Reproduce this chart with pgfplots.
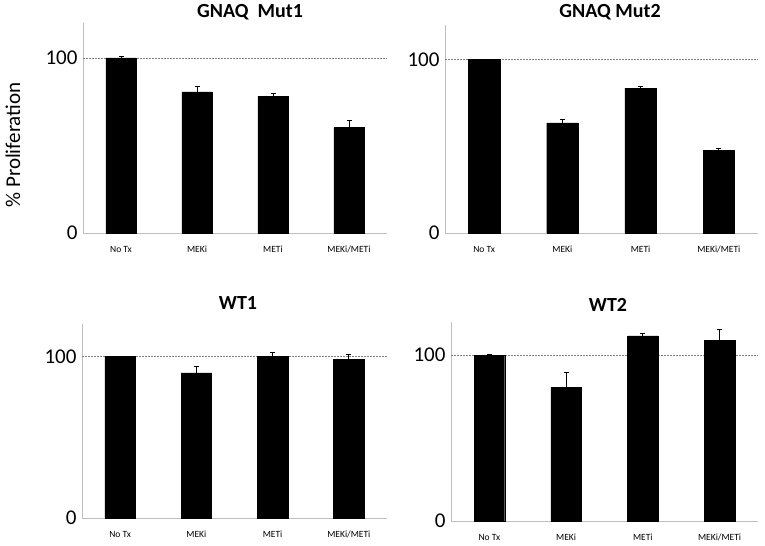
\documentclass[border=0pt]{standalone}
\usepackage{fontspec}
\setmainfont{Carlito}
\usepackage{pgfplots}
\pgfplotsset{compat=1.18}
\pgfplotsset{
  panel/.style={
    scale only axis,
    xmin=-0.5, xmax=3.5, ymin=0, ymax=120,
    axis x line=bottom, axis y line=left,
    axis line style={-, draw=black!25, line width=0.9pt},
    xtick={0,1,2,3},
    xticklabels={No Tx, MEKi, METi, MEKi/METi},
    ytick={0,100},
    major tick length=0pt,
    xticklabel style={font=\fontsize{9.5}{10}\selectfont, yshift=-9pt, text height=7pt, text depth=2pt},
    yticklabel style={font=\fontsize{21}{24}\selectfont, xshift=-2pt},
    /pgf/number format/assume math mode=true,
    ybar, bar width=0.4,
    clip=false,
  },
  bars/.style={
    fill=black, draw=black,
    error bars/.cd, y dir=plus, y explicit,
    error bar style={black, line width=0.9pt},
    error mark options={rotate=90, black, mark size=2.5pt, line width=0.9pt},
  },
  refline/.style={sharp plot, gray, dashed, line width=0.5pt, dash pattern=on 2pt off 1pt, forget plot},
}
\begin{document}
\begin{tikzpicture}
\path (0pt,0pt) rectangle (765pt,545pt);
% Panel 1
\begin{axis}[panel, at={(83pt,312pt)}, anchor=south west, width=304pt, height=210pt]
\addplot[refline] coordinates {(-0.5,100) (3.5,100)};
\addplot[bars] coordinates {(0,100) +- (0,0.6) (1,80.6) +- (0,3.0) (2,77.9) +- (0,1.9) (3,60.4) +- (0,3.8)};
\end{axis}
% Panel 2
\begin{axis}[panel, at={(445pt,312pt)}, anchor=south west, width=313pt, height=208pt]
\addplot[refline] coordinates {(-0.5,100) (3.5,100)};
\addplot[bars] coordinates {(0,100) +- (0,0.3) (1,63.5) +- (0,2.2) (2,83.6) +- (0,0.9) (3,47.7) +- (0,1.2)};
\end{axis}
% Panel 3
\begin{axis}[panel, at={(82pt,27pt)}, anchor=south west, width=305pt, height=194pt]
\addplot[refline] coordinates {(-0.5,100) (3.5,100)};
\addplot[bars] coordinates {(0,100) +- (0,0.2) (1,89.7) +- (0,4.2) (2,100) +- (0,2.5) (3,98.0) +- (0,3.1)};
\end{axis}
% Panel 4
\begin{axis}[panel, at={(451pt,24pt)}, anchor=south west, width=307pt, height=199pt]
\addplot[refline] coordinates {(-0.5,100) (3.5,100)};
\addplot[bars] coordinates {(0,100) +- (0,0.5) (1,80.6) +- (0,9.1) (2,111.7) +- (0,1.4) (3,109.1) +- (0,6.5)};
\end{axis}
\node[font=\fontsize{20}{24}\selectfont\bfseries] at (250pt,533pt) {GNAQ\ \ Mut1};
\node[font=\fontsize{20}{24}\selectfont\bfseries] at (610pt,533pt) {GNAQ Mut2};
\node[font=\fontsize{20}{24}\selectfont\bfseries] at (238pt,242pt) {WT1};
\node[font=\fontsize{20}{24}\selectfont\bfseries] at (608pt,240pt) {WT2};
\node[font=\fontsize{21}{24}\selectfont, rotate=90] at (13pt,400pt) {\% Proliferation};
\end{tikzpicture}
\end{document}
